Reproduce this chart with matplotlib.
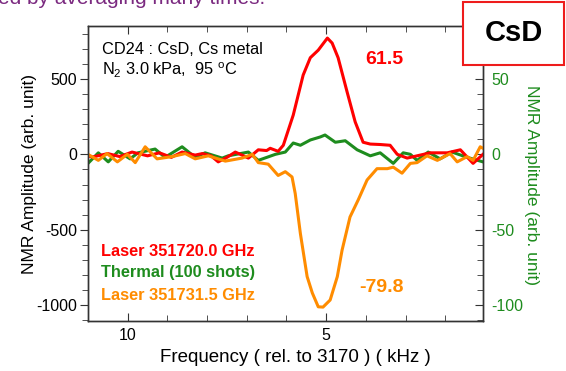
import matplotlib
matplotlib.use("Agg")
import matplotlib.pyplot as plt
from matplotlib.patches import Rectangle
from matplotlib.ticker import MultipleLocator, FixedLocator

plt.rcParams['font.family'] = ['Liberation Sans', 'DejaVu Sans']
plt.rcParams['mathtext.fontset'] = 'custom'
plt.rcParams['mathtext.rm'] = 'Liberation Sans'
plt.rcParams['mathtext.it'] = 'Liberation Sans:italic'
plt.rcParams['axes.unicode_minus'] = False

# ---- data (frequency rel. to 3170 kHz, amplitude arb. unit) ----
red_f = [11.0, 10.89, 10.5, 10.2, 9.89, 9.5, 9.2, 8.9, 8.63, 8.3, 8.12, 7.9, 7.72, 7.5,
         7.29, 7.12, 6.96, 6.71, 6.5, 6.41, 6.21, 6.08, 5.83, 5.58, 5.40, 5.20, 4.97,
         4.85, 4.70, 4.47, 4.27, 4.07, 3.89, 3.64, 3.39, 3.21, 2.96, 2.63, 2.38, 1.95,
         1.62, 1.30, 1.05]
red_v = [-10, -18, 5, -15, 15, -10, 10, -20, 15, -5, 5, -10, -50, -20,
         15, -5, -25, 30, 25, 40, 20, 60, 260, 525, 640, 690, 770,
         737, 640, 410, 215, 80, 68, 65, 60, 0, -25, -5, 10, 10,
         30, -60, 0]

orange_f = [11.0, 10.74, 10.52, 10.26, 10.01, 9.81, 9.56, 9.26, 8.88, 8.55, 8.30, 7.97,
            7.54, 7.12, 6.86, 6.71, 6.46, 6.21, 6.03, 5.86, 5.78, 5.65, 5.48, 5.35,
            5.20, 5.08, 4.90, 4.72, 4.60, 4.40, 4.19, 3.97, 3.72, 3.46, 3.31, 3.09,
            2.88, 2.71, 2.46, 2.20, 1.88, 1.70, 1.45, 1.30, 1.12, 1.05]
orange_v = [0, -40, 5, -50, 0, -55, 50, -30, -15, 5, -30, -10,
            -45, -25, 0, -55, -65, -140, -115, -150, -260, -525, -810, -918,
            -1010, -1012, -965, -810, -635, -415, -300, -170, -95, -95, -85, -125,
            -60, -55, -10, -40, 5, -50, -15, -40, 50, 40]

green_f = [11.0, 10.74, 10.49, 10.24, 9.94, 9.74, 9.31, 9.06, 8.63, 8.30, 8.05, 7.62,
           7.47, 6.96, 6.71, 6.28, 6.03, 5.83, 5.65, 5.40, 5.15, 5.03, 4.77, 4.52,
           4.22, 3.89, 3.64, 3.31, 3.06, 2.88, 2.71, 2.43, 2.13, 1.83, 1.45, 1.05]
green_v = [-6, 1, -5, 2, -3, 1, 3.5, -2, 5, -2, 1, -2.5,
           -1, 1.5, -4, 0, 1.5, 7.5, 6, 9.5, 11.5, 12.8, 8, 9,
           3, -1, 1, -6, 1, 0, -4, 1.5, -3, 1.5, -2, -5]

left_ticks = [-1000, -500, 0, 500]
right_ticks = [-100, -50, 0, 50]
x_ticks = [10, 5]

RED = '#ff0000'
GREEN = '#1e8c1e'
ORANGE = '#ff8c00'

fig = plt.figure(figsize=(5.66, 3.71), dpi=100)
ax = fig.add_axes([88/566, 50/371, 395/566, 295/371])
ax2 = ax.twinx()
ax.set_zorder(ax2.get_zorder() + 1)
ax.patch.set_visible(False)

ax2.plot(green_f, green_v, color=GREEN, lw=2.2, solid_joinstyle='round')
ax.plot(red_f, red_v, color=RED, lw=2.2, solid_joinstyle='round')
ax.plot(orange_f, orange_v, color=ORANGE, lw=2.2, solid_joinstyle='round')

ax.set_xlim(11.0, 1.05)
ax.set_ylim(-1104, 850)
ax2.set_ylim(-110.4, 85)

ax.xaxis.set_major_locator(FixedLocator(x_ticks))
ax.xaxis.set_minor_locator(MultipleLocator(1))
ax.yaxis.set_major_locator(FixedLocator(left_ticks))
ax.yaxis.set_minor_locator(MultipleLocator(100))
ax2.yaxis.set_major_locator(FixedLocator(right_ticks))
ax2.yaxis.set_minor_locator(MultipleLocator(10))

spine_c = '#333333'
for a in (ax, ax2):
    for s in a.spines.values():
        s.set_color(spine_c)
        s.set_linewidth(1.0)

ax.tick_params(axis='x', which='both', direction='in', top=True, bottom=True,
               labelsize=11.5, colors=spine_c, labelcolor='black', pad=5)
ax.tick_params(axis='x', which='major', length=6)
ax.tick_params(axis='x', which='minor', length=4)
ax.tick_params(axis='y', which='both', direction='out', left=True, right=False,
               labelsize=11.5, colors=spine_c, labelcolor='black', pad=2)
ax.tick_params(axis='y', which='major', length=6)
ax.tick_params(axis='y', which='minor', length=4)
ax2.tick_params(axis='y', which='both', direction='in', right=True,
                labelsize=11.5, colors=spine_c, labelcolor=GREEN, pad=6)
ax2.tick_params(axis='y', which='major', length=6)
ax2.tick_params(axis='y', which='minor', length=4)

ax.set_xlabel('Frequency ( rel. to 3170 ) ( kHz )', fontsize=13.5)
ax.xaxis.set_label_coords((295-88)/395, -0.095)
ax.set_ylabel('NMR Amplitude (arb. unit)', fontsize=12.5)
ax.yaxis.label.set(ha='center', va='center')
ax.yaxis.set_label_coords((30-88)/395, 0.497)
ax2.set_ylabel('NMR Amplitude (arb. unit)', fontsize=12.5, color=GREEN, rotation=270)
ax2.yaxis.label.set(ha='center', va='center')
ax2.yaxis.set_label_coords((532-88)/395, 0.461)

ax.text(0.035, 0.919, 'CD24 : CsD, Cs metal', transform=ax.transAxes,
        fontsize=11.8, ha='left', va='center')
ax.text(0.035, 0.851, r'N$_2$ 3.0 kPa,  95 $^{\rm o}$C', transform=ax.transAxes,
        fontsize=11.8, ha='left', va='center')

ax.text(0.033, 0.237, 'Laser 351720.0 GHz', transform=ax.transAxes, color=RED,
        fontsize=11.8, fontweight='bold', ha='left', va='center')
ax.text(0.033, 0.163, 'Thermal (100 shots)', transform=ax.transAxes, color=GREEN,
        fontsize=11.8, fontweight='bold', ha='left', va='center')
ax.text(0.033, 0.088, 'Laser 351731.5 GHz', transform=ax.transAxes, color=ORANGE,
        fontsize=11.8, fontweight='bold', ha='left', va='center')

ax.text(0.749, 0.885, '61.5', transform=ax.transAxes, color=RED,
        fontsize=14, fontweight='bold', ha='center', va='center')
ax.text(0.744, 0.115, '-79.8', transform=ax.transAxes, color=ORANGE,
        fontsize=14, fontweight='bold', ha='center', va='center')

# title box
box = Rectangle((463/566, 1 - 65/371), 101/566, 63/371, transform=fig.transFigure,
                facecolor='white', edgecolor='#ee1c1c', linewidth=1.5, zorder=10)
fig.patches.append(box)
fig.text(513.5/566, 1 - 33/371, 'CsD', fontsize=21, fontweight='bold',
         family=['Liberation Sans Narrow', 'Liberation Sans'],
         ha='center', va='center', zorder=11)

# clipped caption from the slide above
fig.text(-2/566, 1 - 4.5/371, 'ed by averaging many times.', fontsize=15,
         color='#7b2a80', ha='left', va='baseline')

fig.savefig('out.png', dpi=100)
